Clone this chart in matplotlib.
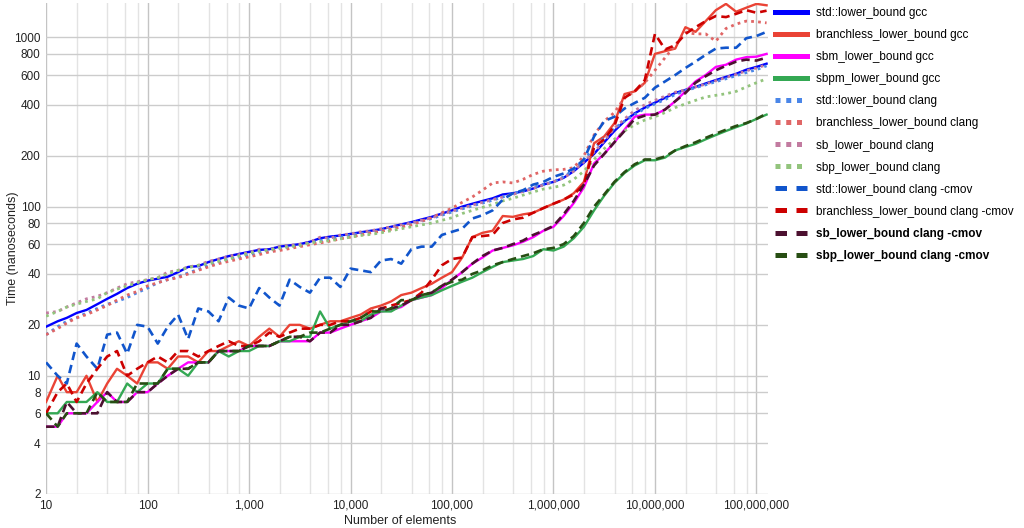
import matplotlib
matplotlib.use("Agg")
import matplotlib.pyplot as plt
from matplotlib.lines import Line2D
from matplotlib.ticker import FixedLocator, FuncFormatter, NullLocator

plt.rcParams['font.family'] = ['Liberation Sans', 'DejaVu Sans']

# number of elements (10 points per decade)
n_elements = [10, 13, 16, 20, 25, 32, 40, 50, 63, 79,
              100, 126, 158, 200, 251, 316, 398, 501, 631, 794,
              1000, 1259, 1585, 1995, 2512, 3162, 3981, 5012, 6310, 7943,
              10000, 12589, 15849, 19953, 25119, 31623, 39811, 50119, 63096, 79433,
              100000, 125893, 158489, 199526, 251189, 316228, 398107, 501187, 630957, 794328,
              1000000, 1258925, 1584893, 1995262, 2511886, 3162278, 3981072, 5011872, 6309573, 7943282,
              10000000, 12589254, 15848932, 19952623, 25118864, 31622777, 39810717, 50118723, 63095734, 79432823,
              100000000, 125892541]

std_gcc = [19.5, 21, 22, 23.5, 24.5, 26.5, 28.5, 30.5, 33, 35,
           36.5, 37.5, 38.5, 41, 44, 44.5, 47, 49, 51, 52.5,
           54, 55.5, 56, 58, 59, 60, 62, 65, 66.5, 67.5,
           69, 70.5, 72, 73.5, 76, 78.5, 81, 84, 87, 91,
           95, 100, 104, 108, 112, 118, 120, 123, 128, 135,
           140, 148, 162, 182, 205, 240, 280, 320, 356, 385,
           412, 440, 470, 490, 510, 535, 560, 585, 610, 645,
           670, 700]
branchless_gcc = [7, 10, 8, 8, 10, 7, 9, 11, 10, 9,
                  12, 12, 11, 13, 13, 12, 14, 14, 15, 16,
                  15, 17, 19, 17, 20, 20, 19, 20, 21, 21,
                  22, 23, 25, 26, 27.5, 30, 31, 33, 35, 38,
                  41, 50, 66, 70, 72, 88, 87, 90, 92, 98,
                  104, 110, 120, 140, 237, 260, 311, 463, 480, 540,
                  800, 830, 860, 1150, 1080, 1250, 1450, 1580, 1420, 1500,
                  1580, 1550]
sbm_gcc = [5, 5, 6, 6, 6, 7, 8, 7, 7, 8,
           8, 9, 10, 11, 12, 12, 12, 14, 14, 14,
           15, 15, 15, 16, 16, 16, 16, 18, 18, 19,
           20, 21, 22, 24, 24.5, 25.5, 28, 29, 30, 33,
           37, 41, 46, 50, 55, 57, 59, 62, 66, 72,
           76, 88, 105, 130, 180, 205, 240, 285, 340, 350,
           350, 375, 420, 480, 550, 600, 670, 690, 740, 765,
           770, 800]
sbpm_gcc = [6, 6, 7, 7, 7, 8, 7, 7, 9, 8,
            9, 9, 11, 11, 10, 12, 12, 14, 13, 14,
            14, 15, 15, 16, 16, 17, 17, 24, 19, 20,
            21, 21, 23, 24, 24, 26, 28, 29, 30, 32,
            34, 36, 38, 41, 44, 47, 48, 49, 51, 56,
            55, 58, 65, 76, 95, 116, 138, 158, 175, 188,
            188, 195, 215, 225, 235, 250, 265, 280, 295, 310,
            330, 350]
std_clang = [17.5, 19.5, 21, 22, 23.5, 25, 26.5, 27.5, 29, 31,
             33, 35.5, 37, 38.5, 40.5, 42.5, 45, 47, 49, 50,
             52, 53.5, 55, 56.5, 58, 59, 61, 63, 65, 66,
             68, 69.5, 71, 72.5, 74.5, 77, 79.5, 82, 85, 89,
             93, 97, 101, 105, 109, 114, 119, 124, 130, 135,
             140, 150, 165, 190, 220, 255, 290, 320, 350, 380,
             405, 430, 460, 485, 505, 525, 548, 570, 595, 620,
             645, 680]
branchless_clang = [17.5, 19, 20.5, 22, 23, 24.5, 26, 28, 30, 31.5,
                    34, 35.5, 37, 38, 40, 42, 44, 46, 47.5, 49,
                    50.5, 52, 54, 55, 56.5, 58, 59.5, 61, 62.5, 64.5,
                    66, 68, 70, 71.5, 73.5, 76, 78, 82, 86, 92,
                    98, 106, 114, 125, 138, 140, 138, 145, 155, 162,
                    165, 166, 170, 200, 265, 320, 360, 440, 480, 540,
                    640, 760, 900, 1070, 1050, 1050, 950, 1130, 1200, 1250,
                    1240, 1220]
sb_clang = [23.5, 24, 25.5, 27, 28.5, 29.5, 31, 33, 35, 36,
            37, 38, 41, 42, 44, 45, 47.5, 49, 51, 52,
            53.5, 56, 55.5, 58, 59, 60, 61.5, 66, 65, 68,
            69, 71, 72, 74, 76, 78, 80, 83, 86, 90,
            94, 98, 102, 106, 110, 114, 118, 123, 128, 134,
            140, 148, 162, 185, 210, 245, 290, 330, 370, 400,
            425, 450, 475, 490, 510, 530, 555, 580, 605, 635,
            660, 690]
sbp_clang = [22.5, 24, 25.5, 26.5, 27.5, 28.5, 31, 32.5, 34, 35.5,
             37, 38, 40, 42, 43.5, 45, 46, 47.5, 49, 51,
             53, 54.5, 55.5, 57, 58, 59, 61, 62, 63, 64.5,
             66, 67.5, 68.5, 70, 72, 74, 76, 78, 80, 83,
             86, 91, 95, 99, 103, 108, 112, 117, 122, 127,
             130, 134, 145, 162, 190, 220, 250, 280, 305, 325,
             340, 360, 385, 405, 425, 445, 455, 465, 480, 510,
             540, 570]
std_cmov = [12, 10, 9, 15.5, 13, 11, 17.5, 18, 13.5, 20,
            19.5, 15.5, 19.5, 23, 16.5, 25, 24, 21, 29, 26,
            25, 33, 29, 26, 37, 33.5, 31, 38, 38, 33.5,
            43, 42, 41, 48, 49, 46, 56, 58, 58, 68,
            71, 74, 85, 89, 95, 110, 120, 125, 135, 140,
            150, 157, 168, 190, 260, 320, 340, 380, 410, 440,
            505, 550, 600, 660, 720, 790, 860, 870, 870, 990,
            1020, 1080]
branchless_cmov = [6, 8, 9, 7, 9, 11, 13, 14, 10, 11,
                   12, 13, 12, 14, 14, 13, 14, 15, 16, 15,
                   15, 16, 18, 17, 18, 19, 19, 20, 20, 21,
                   21, 22, 24, 25, 26, 27, 28, 31, 37, 45,
                   49, 50, 66, 67, 68, 80, 84, 86, 92, 98,
                   104, 110, 118, 135, 225, 250, 300, 440, 480, 560,
                   1050, 850, 900, 1050, 1150, 1250, 1340, 1320, 1380, 1450,
                   1400, 1440]
sb_cmov = [5, 5, 7, 6, 6, 6, 8, 7, 7, 8,
           8, 9, 10, 11, 11, 12, 12, 14, 14, 14,
           15, 15, 15, 16, 17, 17, 16, 18, 18, 20,
           20, 21, 22, 25, 25, 26, 28, 30, 31, 34,
           37, 41, 46, 51, 55, 57, 60, 63, 68, 72,
           77, 90, 108, 135, 175, 205, 240, 280, 330, 345,
           350, 375, 420, 470, 540, 590, 640, 680, 720, 740,
           730, 760]
sbp_cmov = [6, 5, 6, 6, 6, 8, 7, 7, 7, 9,
            9, 9, 11, 11, 11, 12, 12, 14, 14, 14,
            15, 15, 15, 16, 17, 17, 18, 18, 19, 20,
            21, 22, 24, 24, 25, 28, 28, 30, 31, 34,
            36, 37, 40, 42, 45, 47, 49, 51, 53, 56,
            57, 60, 67, 80, 100, 118, 140, 160, 178, 190,
            190, 198, 215, 228, 240, 255, 270, 285, 300, 312,
            330, 355]

labels = ["std::lower_bound gcc", "branchless_lower_bound gcc", "sbm_lower_bound gcc",
          "sbpm_lower_bound gcc", "std::lower_bound clang", "branchless_lower_bound clang",
          "sb_lower_bound clang", "sbp_lower_bound clang", "std::lower_bound clang -cmov",
          "branchless_lower_bound clang -cmov", "sb_lower_bound clang -cmov",
          "sbp_lower_bound clang -cmov"]
series = [std_gcc, branchless_gcc, sbm_gcc, sbpm_gcc, std_clang, branchless_clang,
          sb_clang, sbp_clang, std_cmov, branchless_cmov, sb_cmov, sbp_cmov]
colors = ["#0000ff", "#ea4335", "#ff00ff", "#34a853", "#4a86e8", "#e06666",
          "#c27ba0", "#93c47d", "#1155cc", "#cc0000", "#4c1130", "#274e13"]
kinds = ["solid"] * 4 + ["dot"] * 4 + ["dash"] * 4

fig = plt.figure(figsize=(10.24, 5.28), dpi=100)
ax = fig.add_axes([0.045, 0.0644, 0.705, 0.93])

handles = []
for ys, lab, col, kind in zip(series, labels, colors, kinds):
    if kind == "solid":
        ax.plot(n_elements, ys, color=col, lw=1.7, solid_joinstyle='round')
        h = Line2D([], [], color=col, lw=3.6)
    elif kind == "dot":
        ax.plot(n_elements, ys, color=col, lw=2.0, linestyle=(0, (1, 1.5)))
        h = Line2D([], [], color=col, lw=3.6, linestyle=(0, (1, 1.15)))
    else:
        ax.plot(n_elements, ys, color=col, lw=1.9, linestyle=(0, (3.2, 1.9)))
        h = Line2D([], [], color=col, lw=3.6, linestyle=(0, (2.3, 1.9)))
    handles.append(h)

ax.set_xscale('log')
ax.set_yscale('log')
ax.set_xlim(10, 1.3e8)
ax.set_ylim(2, 1600)

yticks = [2, 4, 6, 8, 10, 20, 40, 60, 80, 100, 200, 400, 600, 800, 1000]
ax.yaxis.set_major_locator(FixedLocator(yticks))
ax.yaxis.set_minor_locator(NullLocator())
ax.yaxis.set_major_formatter(FuncFormatter(lambda v, p: "%d" % v))

xmajor = [10 ** e for e in range(1, 9)]
xminor = [m * 10 ** e for e in range(1, 8) for m in (2, 4, 6, 8)]
ax.xaxis.set_major_locator(FixedLocator(xmajor))
ax.xaxis.set_minor_locator(FixedLocator(xminor))
ax.xaxis.set_major_formatter(FuncFormatter(lambda v, p: "{:,}".format(int(round(v)))))

ax.grid(True, which='major', axis='y', color='#cccccc', lw=1)
ax.grid(True, which='major', axis='x', color='#c4c4c4', lw=1)
ax.grid(True, which='minor', axis='x', color='#e3e3e3', lw=1)
ax.set_axisbelow(True)
for s in ax.spines.values():
    s.set_visible(False)
ax.tick_params(which='both', length=0, labelsize=8.5, colors='#222222')
ax.tick_params(axis='y', pad=4)
ax.tick_params(axis='x', pad=4)

ax.set_xlabel("Number of elements", fontsize=9, color='#222222')
ax.xaxis.set_label_coords(0.49, -0.043)
ax.set_ylabel("Time (nanoseconds)", fontsize=9, color='#222222')
ax.yaxis.set_label_coords(-0.038, 0.5)

leg = ax.legend(handles, labels, loc='upper left', bbox_to_anchor=(0.998, 1.008),
                frameon=False, fontsize=8.5, handlelength=2.75, handletextpad=0.75,
                labelspacing=0.85, borderaxespad=0.3)
for t in leg.get_texts()[-2:]:
    t.set_fontweight('bold')

fig.savefig("out.png", dpi=100)
